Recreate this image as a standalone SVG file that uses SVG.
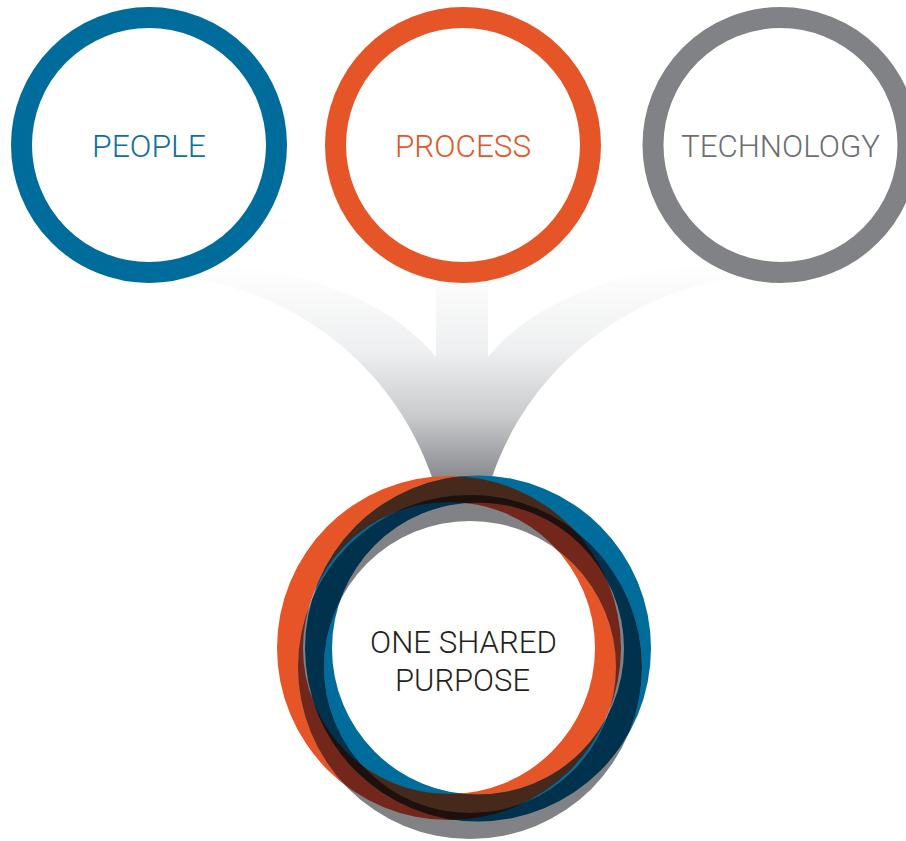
<svg xmlns="http://www.w3.org/2000/svg" xmlns:xlink="http://www.w3.org/1999/xlink" width="906" height="841" viewBox="0 0 906 841">
<style>
.lbl{font-family:Roboto,"Liberation Sans",sans-serif;font-weight:300;font-size:32px;text-anchor:middle}
.ring{fill:#fff;stroke-width:21}
</style>
<defs>
<linearGradient id="fade" gradientUnits="userSpaceOnUse" x1="0" y1="265" x2="0" y2="482">
<stop offset="0" stop-color="#ffffff"/>
<stop offset="0.4" stop-color="#eeeff0"/>
<stop offset="0.7" stop-color="#c9cacc"/>
<stop offset="1" stop-color="#85868a"/>
</linearGradient>
<path id="ringO" fill-rule="evenodd" clip-rule="evenodd" d="M277 648A172 172 0 1 0 621 648A172 172 0 1 0 277 648ZM303 648A146 146 0 1 0 595 648A146 146 0 1 0 303 648Z"/>
<path id="ringB" fill-rule="evenodd" clip-rule="evenodd" d="M305 648.5A173 173 0 1 0 651 648.5A173 173 0 1 0 305 648.5ZM332 648.5A146 146 0 1 0 624 648.5A146 146 0 1 0 332 648.5Z"/>
<path id="ringG" fill-rule="evenodd" clip-rule="evenodd" d="M298 667A172 172 0 1 0 642 667A172 172 0 1 0 298 667ZM324 667A146 146 0 1 0 616 667A146 146 0 1 0 324 667Z"/>
<clipPath id="clipO"><use xlink:href="#ringO"/></clipPath>
<clipPath id="clipB"><use xlink:href="#ringB"/></clipPath>
</defs>
<rect width="906" height="841" fill="#ffffff"/>
<g id="connectors">
<path id="funnel" fill="url(#fade)" d="M183 277C290 290 392 362 432 477L432 483L492 483L492 477C532 362 634 290 741 277L724 262C624 268 534 300 488 357L488 270L436 270L436 357C390 300 300 268 200 262Z"/>
</g>
<g id="node-people">
<circle class="ring" cx="149" cy="145" r="127.5" stroke="#006C9C"/>
<text class="lbl" x="149" y="157" fill="#0F6E9F" textLength="114" lengthAdjust="spacingAndGlyphs">PEOPLE</text>
</g>
<g id="node-process">
<circle class="ring" cx="463" cy="145" r="127.5" stroke="#E55527"/>
<text class="lbl" x="463" y="157" fill="#E55527" textLength="136" lengthAdjust="spacingAndGlyphs">PROCESS</text>
</g>
<g id="node-technology">
<circle class="ring" cx="780.5" cy="145" r="127.5" stroke="#808285"/>
<text class="lbl" x="780.5" y="157" fill="#6D6E71" textLength="199" lengthAdjust="spacingAndGlyphs">TECHNOLOGY</text>
</g>
<g id="node-shared">
<use xlink:href="#ringO" fill="#E55527"/>
<use xlink:href="#ringB" fill="#006C9C"/>
<use xlink:href="#ringG" fill="#808285"/>
<use xlink:href="#ringB" fill="#47291C" clip-path="url(#clipO)"/>
<use xlink:href="#ringG" fill="#72271A" clip-path="url(#clipO)"/>
<use xlink:href="#ringG" fill="#00324D" clip-path="url(#clipB)"/>
<g clip-path="url(#clipO)"><use xlink:href="#ringG" fill="#1E110D" clip-path="url(#clipB)"/></g>
<text class="lbl" x="463.5" y="653" fill="#231F20" textLength="187" lengthAdjust="spacingAndGlyphs">ONE SHARED</text>
<text class="lbl" x="462.5" y="691" fill="#231F20" textLength="135" lengthAdjust="spacingAndGlyphs">PURPOSE</text>
</g>
</svg>
